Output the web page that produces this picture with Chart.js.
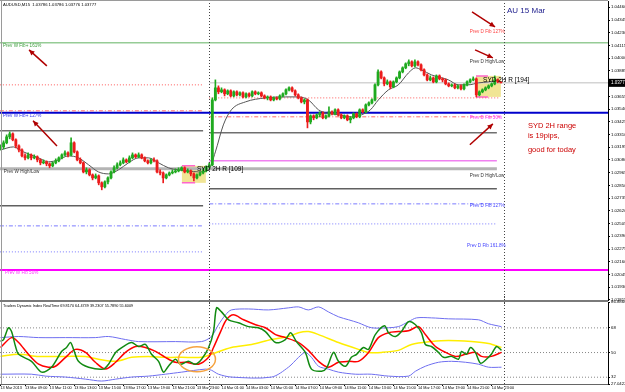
<!DOCTYPE html>
<html>
<head>
<meta charset="utf-8">
<title>AUDUSD M15</title>
<script src="https://cdn.jsdelivr.net/npm/chart.js@4.4.1/dist/chart.umd.min.js"></script>
<style>
  html, body { margin: 0; padding: 0; background: #fff; overflow: hidden; width: 625px; height: 392px; }
  #priceChart { position: absolute; left: 0; top: 0; }
  #tdiChart { position: absolute; left: 0; top: 296px; }
</style>
</head>
<body>
<canvas id="priceChart" width="625" height="305"></canvas>
<canvas id="tdiChart" width="625" height="96"></canvas>
<script>
// ---- price data (M15 candles, bar 0 = 13 Mar 07:00) ----
const opens = [
  1.03189,1.03198,1.03235,1.03289,1.03316,1.03262,1.03207,1.03171,1.03117,1.03099,
  1.03126,1.03099,1.03108,1.03081,1.03054,1.03063,1.03045,1.03027,1.03054,1.03072,
  1.03099,1.03126,1.03144,1.03126,1.03235,1.03153,1.03081,1.03054,1.02972,1.02990,
  1.02945,1.02918,1.02936,1.02873,1.02837,1.02882,1.02918,1.02972,1.03009,1.03036,
  1.03054,1.03081,1.03063,1.03099,1.03126,1.03108,1.03126,1.03099,1.03072,1.03054,
  1.03081,1.03072,1.02972,1.02963,1.02918,1.02945,1.02963,1.02972,1.02981,1.02990,
  1.03009,1.02972,1.02981,1.02954,1.02918,1.02945,1.02963,1.02981,1.03018,1.03036,
  1.03623,1.03732,1.03696,1.03714,1.03678,1.03705,1.03659,1.03696,1.03669,1.03687,
  1.03650,1.03678,1.03659,1.03696,1.03678,1.03687,1.03659,1.03641,1.03650,1.03623,
  1.03641,1.03632,1.03659,1.03678,1.03714,1.03732,1.03705,1.03669,1.03641,1.03605,
  1.03623,1.03424,1.03479,1.03461,1.03488,1.03506,1.03461,1.03479,1.03515,1.03497,
  1.03533,1.03488,1.03461,1.03479,1.03443,1.03461,1.03497,1.03470,1.03533,1.03515,
  1.03578,1.03596,1.03623,1.03759,1.03876,1.03822,1.03768,1.03786,1.03741,1.03786,
  1.03822,1.03876,1.03913,1.03949,1.03967,1.03931,1.03967,1.03940,1.03895,1.03849,
  1.03804,1.03822,1.03786,1.03840,1.03813,1.03804,1.03768,1.03750,1.03759,1.03732,
  1.03750,1.03723,1.03759,1.03786,1.03804,1.03813,1.03669,1.03696,1.03714,1.03732,
  1.03750,1.03768,1.03804,1.03786
];
const highs = [
  1.03217,1.03253,1.03307,1.03334,1.03325,1.03271,1.03217,1.03180,1.03135,1.03144,
  1.03135,1.03126,1.03117,1.03090,1.03081,1.03072,1.03054,1.03063,1.03090,1.03108,
  1.03135,1.03162,1.03153,1.03280,1.03244,1.03162,1.03099,1.03063,1.03009,1.03000,
  1.02954,1.02954,1.02945,1.02882,1.02891,1.02927,1.02981,1.03027,1.03054,1.03072,
  1.03099,1.03090,1.03117,1.03144,1.03135,1.03144,1.03135,1.03108,1.03081,1.03090,
  1.03099,1.03081,1.02990,1.02972,1.02954,1.02972,1.02990,1.03000,1.03009,1.03018,
  1.03018,1.03000,1.02990,1.02963,1.02954,1.02972,1.03000,1.03027,1.03054,1.03641,
  1.03804,1.03750,1.03732,1.03723,1.03714,1.03714,1.03705,1.03705,1.03696,1.03696,
  1.03687,1.03687,1.03705,1.03705,1.03696,1.03696,1.03669,1.03659,1.03659,1.03650,
  1.03650,1.03669,1.03687,1.03723,1.03741,1.03741,1.03714,1.03678,1.03650,1.03632,
  1.03632,1.03488,1.03488,1.03497,1.03515,1.03515,1.03488,1.03560,1.03524,1.03542,
  1.03542,1.03497,1.03488,1.03488,1.03470,1.03506,1.03506,1.03542,1.03542,1.03587,
  1.03605,1.03632,1.03768,1.03895,1.03885,1.03831,1.03804,1.03795,1.03795,1.03831,
  1.03885,1.03922,1.03958,1.03985,1.03976,1.03985,1.03976,1.03949,1.03904,1.03858,
  1.03840,1.03831,1.03849,1.03849,1.03822,1.03813,1.03777,1.03768,1.03768,1.03759,
  1.03759,1.03768,1.03795,1.03813,1.03831,1.03822,1.03705,1.03723,1.03741,1.03759,
  1.03777,1.03840,1.03813,1.03786
];
const lows = [
  1.03171,1.03180,1.03226,1.03271,1.03253,1.03189,1.03153,1.03108,1.03081,1.03090,
  1.03081,1.03090,1.03063,1.03036,1.03045,1.03027,1.03009,1.03018,1.03045,1.03063,
  1.03090,1.03117,1.03108,1.03117,1.03144,1.03072,1.03045,1.02963,1.02954,1.02936,
  1.02900,1.02909,1.02855,1.02810,1.02828,1.02864,1.02909,1.02963,1.03000,1.03027,
  1.03045,1.03054,1.03054,1.03090,1.03099,1.03099,1.03090,1.03063,1.03045,1.03045,
  1.03063,1.02963,1.02945,1.02873,1.02909,1.02936,1.02954,1.02963,1.02972,1.02981,
  1.02963,1.02963,1.02936,1.02891,1.02909,1.02936,1.02954,1.02972,1.03009,1.03027,
  1.03614,1.03678,1.03687,1.03659,1.03669,1.03650,1.03650,1.03659,1.03659,1.03641,
  1.03641,1.03650,1.03650,1.03669,1.03669,1.03650,1.03632,1.03623,1.03614,1.03614,
  1.03623,1.03623,1.03650,1.03669,1.03705,1.03696,1.03659,1.03632,1.03596,1.03587,
  1.03370,1.03406,1.03443,1.03452,1.03470,1.03452,1.03452,1.03470,1.03488,1.03488,
  1.03479,1.03452,1.03452,1.03434,1.03415,1.03452,1.03461,1.03461,1.03506,1.03506,
  1.03569,1.03587,1.03614,1.03750,1.03813,1.03750,1.03759,1.03723,1.03732,1.03777,
  1.03813,1.03867,1.03904,1.03931,1.03922,1.03922,1.03931,1.03885,1.03840,1.03795,
  1.03795,1.03777,1.03777,1.03804,1.03786,1.03759,1.03741,1.03741,1.03723,1.03723,
  1.03714,1.03714,1.03750,1.03777,1.03795,1.03650,1.03659,1.03687,1.03705,1.03723,
  1.03741,1.03759,1.03777,1.03776
];
const closes = [
  1.03198,1.03235,1.03289,1.03316,1.03262,1.03207,1.03171,1.03117,1.03099,1.03126,
  1.03099,1.03108,1.03081,1.03054,1.03063,1.03045,1.03027,1.03054,1.03072,1.03099,
  1.03126,1.03144,1.03126,1.03235,1.03153,1.03081,1.03054,1.02972,1.02990,1.02945,
  1.02918,1.02936,1.02873,1.02837,1.02882,1.02918,1.02972,1.03009,1.03036,1.03054,
  1.03081,1.03063,1.03099,1.03126,1.03108,1.03126,1.03099,1.03072,1.03054,1.03081,
  1.03072,1.02972,1.02963,1.02918,1.02945,1.02963,1.02972,1.02981,1.02990,1.03009,
  1.02972,1.02981,1.02954,1.02918,1.02945,1.02963,1.02981,1.03018,1.03036,1.03623,
  1.03732,1.03696,1.03714,1.03678,1.03705,1.03659,1.03696,1.03669,1.03687,1.03650,
  1.03678,1.03659,1.03696,1.03678,1.03687,1.03659,1.03641,1.03650,1.03623,1.03641,
  1.03632,1.03659,1.03678,1.03714,1.03732,1.03705,1.03669,1.03641,1.03605,1.03623,
  1.03424,1.03479,1.03461,1.03488,1.03506,1.03461,1.03479,1.03515,1.03497,1.03533,
  1.03488,1.03461,1.03479,1.03443,1.03461,1.03497,1.03470,1.03533,1.03515,1.03578,
  1.03596,1.03623,1.03759,1.03876,1.03822,1.03768,1.03786,1.03741,1.03786,1.03822,
  1.03876,1.03913,1.03949,1.03967,1.03931,1.03967,1.03940,1.03895,1.03849,1.03804,
  1.03822,1.03786,1.03840,1.03813,1.03804,1.03768,1.03750,1.03759,1.03732,1.03750,
  1.03723,1.03759,1.03786,1.03804,1.03813,1.03669,1.03696,1.03714,1.03732,1.03750,
  1.03768,1.03804,1.03786,1.03777
];

// moving average (gray line), sampled
const maBars = [0,4.2,7.5,12.4,15.6,18.9,22.1,25.4,28.7,31.9,35.2,38.4,41.7,45,48.2,51.5,54.7,58,61.2,64.5,
  67.8,70,72.6,75.2,79.8,86.3,92.8,97,100.3,103.6,106,110.1,114.3,117.6,120.5,123.1,126.4,129.6,132.9,135.2,
  137.1,140.4,145.9,149.2,152.4,155.7,159,162.2];
const maPrices = [1.03171,1.03198,1.03153,1.03099,1.03063,1.03081,1.03117,1.03099,1.03036,1.02972,
  1.02954,1.02990,1.03054,1.03099,1.03099,1.03054,1.03009,1.02990,1.02981,1.02972,
  1.02990,1.03153,1.03397,1.03533,1.03605,1.03641,1.03650,1.03650,1.03623,1.03533,
  1.03506,1.03488,1.03470,1.03488,1.03533,1.03623,1.03714,1.03759,1.03867,1.03913,
  1.03895,1.03849,1.03804,1.03759,1.03759,1.03777,1.03786,1.03804];

// horizontal levels (price, from bar, to bar)
const levelPrices = [1.04139,1.03759,1.03777,1.03641,1.03524,1.03506,1.03470,1.03343,1.03325,
  1.03072,1.03000,1.02819,1.02665,1.02683,1.02484,1.02502,1.02249,1.02086];
const levelFrom = [-0.2,-0.2,68,68,-0.2,-0.2,68,-0.2,68,68,-0.2,68,-0.2,68,-0.2,68,-0.2,-0.2];
const levelTo = [198,66,198,162.7,66,198,162.7,66,161.7,161.7,161.7,161.7,66,161.7,66,161.7,66,198];
const levelStyles = [
  {color: '#96cc96', width: 1.5, dash: []},
  {color: '#ff5a5a', width: 1, dash: [1, 2]},
  {color: '#d4d4d4', width: 1.5, dash: []},
  {color: '#ff5a5a', width: 1, dash: [1, 2]},
  {color: '#ff6a6a', width: 1, dash: [4, 2, 1, 2]},
  {color: '#0000cc', width: 2, dash: []},
  {color: '#ff6a6a', width: 1, dash: [4, 2, 1, 2]},
  {color: '#707070', width: 1.5, dash: []},
  {color: '#707070', width: 1.5, dash: []},
  {color: '#f080f0', width: 1.5, dash: []},
  {color: '#b4b4b4', width: 3, dash: []},
  {color: '#606060', width: 1.5, dash: []},
  {color: '#606060', width: 1.5, dash: []},
  {color: '#7a7aff', width: 1, dash: [4, 2, 1, 2]},
  {color: '#7a7aff', width: 1, dash: [4, 2, 1, 2]},
  {color: '#7a7aff', width: 1, dash: [1, 2]},
  {color: '#7a7aff', width: 1, dash: [1, 2]},
  {color: '#ff00ff', width: 2, dash: []}
];

const levelLabelText = ['Prev W Fib+ 161%','Prev W Fib+ 127%','Prev W High/Low','Prev W Fib 50%',
  'Prev D Fib 127%','Prev D High/Low','Prev D Fib 50%','Prev D High/Low','Prev D Fib 127%',
  'Prev D Fib 161.8%','SYD 2H R [194]','SYD 2H R [109]'];
const levelLabelBar = [0.8,0.8,1.1,1.5,152.9,152.9,152.9,152.9,152.9,152,157.2,64];
const levelLabelPrice = [1.04111,1.03479,1.02972,1.02059,1.04238,1.03967,1.03461,1.02936,1.02665,1.02303,1.03804,1.03000];
const levelLabelColors = ['#3c9c3c','#3333ee','#333333','#ff33ff','#ff4040','#333333','#ff33ff',
  '#333333','#4444ff','#4444ff','#000000','#000000'];

const noteText = ['AU 15 Mar','SYD 2H range','is 19pips,','good for today'];
const noteBar = [165, 171.8, 171.8, 171.8];
const notePrice = [1.04428, 1.03388, 1.03298, 1.03171];

// arrows (from -> to, head at "to")
const arrowFromBar = [153.6, 154.6, 152.9, 15.1, 18.4];
const arrowFromPrice = [1.04419, 1.04075, 1.03217, 1.03931, 1.03207];
const arrowToBar = [161.1, 160.4, 160.4, 9.3, 10.6];
const arrowToPrice = [1.04283, 1.04003, 1.03406, 1.04075, 1.03434];

// Sydney 2H range boxes
const sydBoxFrom = [59.1, 154.9];
const sydBoxTo = [66.9, 163];
const sydBoxHigh = [1.03027, 1.03840];
const sydBoxLow = [1.02873, 1.03650];
const sydEdgeTo = [63.4, 158.8];

const daySeparators = [68, 164];
const priceTicks = [1.04460,1.04345,1.04230,1.04115,1.04000,1.03885,1.03770,1.03655,1.03540,1.03425,
  1.03310,1.03195,1.03080,1.02965,1.02850,1.02735,1.02620,1.02505,1.02390,1.02275,1.02160,1.02045,
  1.01930,1.01815];

// ---- Traders Dynamic Index ----
const tdiGreenBars = [0,1,2.6,3.6,4.9,5.9,10.1,13.4,16.6,19.9,21.5,22.8,23.8,25.4,28.7,33.5,35.2,37.5,40,42.7,
  45,47.2,49.2,51.5,53.1,54.7,57,58.6,61.2,63.5,65.5,67.8,69.4,70.4,72,74.3,77.5,80.8,84,86.3,
  89.6,92.8,94.5,96.4,99.3,101.3,104.6,106.2,108.5,110.1,112.4,114.3,116,118.2,119.9,122.1,125.1,126.4,128.7,130.6,
  132.9,135.2,137.1,138.4,140.4,142.7,144.3,146.9,149.2,150.2,151.8,153.1,154.7,156.4,158.3,159.9,161.6,163.2];
const tdiGreen = [58.1,59.5,68.1,65.3,54.4,48.7,43.6,35.7,39.3,50.8,53.7,57.3,52.3,43.6,39.3,37.9,41.5,50.1,54.4,57.3,
  54.4,55.9,48.7,43.6,35.7,40.0,45.1,41.5,43.6,41.5,45.1,53.7,65.3,82.6,79.7,73.9,71.7,68.9,68.1,65.3,
  57.3,59.5,64.5,58.0,50.1,37.9,36.4,38.6,50.1,43.6,40.0,46.5,48.7,53.7,52.3,63.1,69.6,64.5,61.7,65.3,
  72.5,70.3,64.5,55.9,54.4,50.1,46.5,47.2,45.1,50.8,48.7,53.7,50.1,42.2,45.1,48.7,54.4,51.6];
const tdiRedBars = [0,3.6,5.9,9.1,12.4,15.6,17.9,21.2,24.4,27.7,30.9,34.2,37.5,40.7,44,47.2,50.5,53.7,57,60.3,
  64.5,67.8,69.4,71.7,73.6,75.9,79.2,83.1,86.3,89.6,92.8,97.1,100.3,103.6,106.8,110.1,113.4,116.6,119.9,123.1,
  126.4,129.6,132.9,136.2,138.4,141.7,145,148.2,151.5,154.7,156.7,159.9,163.2];
const tdiRed = [53.7,60.9,57.3,48.7,41.5,39.3,40.0,46.5,52.3,50.1,42.9,37.9,42.9,50.1,54.4,53.7,50.8,46.5,42.9,42.9,
  41.5,46.5,53.7,65.3,73.9,77.5,73.9,70.3,68.1,63.1,60.9,57.3,51.6,43.6,39.3,42.9,43.6,43.6,50.1,60.9,
  64.5,65.3,65.9,68.9,63.1,54.4,50.1,47.2,48.7,50.1,47.2,47.2,50.1];
const tdiYellowBars = [0,5.9,12.4,21.2,27.7,31.9,37.5,42.7,48.2,53.7,59,65.5,68.7,75.2,81.8,88.3,93.8,97.1,100.3,103.6,
  110.1,116.6,119.9,124.1,129.6,133.9,140.4,145.9,153.4,159,163.2];
const tdiYellow = [47.2,48.7,47.2,47.2,47.2,45.1,43.6,46.5,47.2,46.5,46.5,46.5,48.7,53.7,55.9,59.5,61.7,64.5,65.3,63.1,
  57.3,52.3,50.1,50.1,51.6,55.9,58.0,58.8,58.0,56.6,53.7];
const tdiUpperBars = [0,5.9,12.4,21.2,30.9,35.2,40.7,45,57,65.5,68.7,71,73.3,75.2,80.8,87.3,93.8,97.1,100.3,103.6,
  106.8,110.1,113.4,116.6,120.8,126.4,129.6,132.9,135.5,140.4,145.9,155.7,159,163.2];
const tdiUpper = [60.9,61.7,60.9,60.9,60.9,61.7,59.5,58.0,58.0,58.0,61.7,70.3,77.5,81.1,81.8,81.1,82.6,83.3,81.1,83.3,
  79.7,76.1,73.9,71.7,68.1,68.1,68.9,72.5,75.3,75.3,74.6,73.9,71.0,68.9];
const tdiLowerBars = [0,10.1,14.7,21.2,27.7,32.9,37.5,42.7,48.2,53.7,59,66.8,68.7,71,75.2,88.3,93.8,97.1,99.3,101.3,
  103.6,106.8,110.1,115.6,120.8,126.4,132.9,135.2,138.4,142.7,146.9,151.5,155.7,159,163.2];
const tdiLower = [34.2,34.2,32.8,32.1,30.6,29.2,30.6,32.1,32.8,34.2,35.7,37.9,37.1,34.2,32.1,32.1,39.3,46.5,50.1,46.5,
  40.0,37.9,35.7,34.2,34.2,32.8,32.8,36.4,40.0,42.9,43.6,42.9,41.5,39.3,39.3];
const tdiLevels = [68, 50, 32];
const tdiTicks = [86.8866, 68, 50, 32, 27.0422];
const tdiHighlightBar = 64;
const tdiHighlightValue = 45.1;

const timeBars = [0,8,16,24,32,40,48,56,64,72,80,88,96,104,112,120,128,136,144,152,160];
const timeLabels = ['13 Mar 2013','13 Mar 09:00','13 Mar 11:00','13 Mar 13:00','13 Mar 15:00','13 Mar 17:00',
  '13 Mar 19:00','13 Mar 21:00','13 Mar 23:00','14 Mar 01:00','14 Mar 03:00','14 Mar 05:00','14 Mar 07:00',
  '14 Mar 09:00','14 Mar 11:00','14 Mar 13:00','14 Mar 15:00','14 Mar 17:00','14 Mar 19:00','14 Mar 21:00',
  '14 Mar 23:00'];

const X_MIN = -0.16;
const X_MAX = 197.9;
const FONT = '"Liberation Sans", Arial, sans-serif';

Chart.defaults.font.family = FONT;
Chart.defaults.animation = false;

const pairPoints = (xs, ys) => xs.map((v, i) => ({x: v, y: ys[i]}));
const candleColor = i => closes[i] >= opens[i] ? '#1faa1f' : '#ec1c1c';

function text(ctx, str, px, py, color, size, align) {
    ctx.save();
    ctx.font = size + 'px ' + FONT;
    ctx.fillStyle = color;
    ctx.textAlign = align || 'left';
    ctx.textBaseline = 'middle';
    ctx.fillText(str, px, py);
    ctx.restore();
}

function drawSeparators(chart) {
    const {ctx, scales: {x}} = chart;
    ctx.save();
    ctx.strokeStyle = '#444';
    ctx.lineWidth = 1;
    ctx.setLineDash([1, 2]);
    daySeparators.forEach(b => {
        const px = Math.round(x.getPixelForValue(b)) + 0.5;
        ctx.beginPath();
        ctx.moveTo(px, 0);
        ctx.lineTo(px, chart.height);
        ctx.stroke();
    });
    ctx.restore();
}

// overlays on the price panel
const priceOverlay = {
    id: 'priceOverlay',
    beforeDatasetsDraw(chart) {
        const {ctx, scales: {x, y}} = chart;
        ctx.save();
        sydBoxFrom.forEach((b, i) => {
            const x0 = x.getPixelForValue(b), x1 = x.getPixelForValue(sydBoxTo[i]);
            const y0 = y.getPixelForValue(sydBoxHigh[i]), y1 = y.getPixelForValue(sydBoxLow[i]);
            ctx.fillStyle = 'rgba(238,224,130,0.85)';
            ctx.fillRect(x0, y0, x1 - x0, y1 - y0);
            ctx.strokeStyle = '#ff66cc';
            ctx.lineWidth = 1.5;
            const xe = x.getPixelForValue(sydEdgeTo[i]);
            ctx.beginPath();
            ctx.moveTo(x0, y0); ctx.lineTo(xe, y0);
            ctx.moveTo(x0, y1); ctx.lineTo(xe, y1);
            ctx.stroke();
        });
        ctx.restore();
    },
    afterDatasetsDraw(chart) {
        const {ctx, scales: {x, y}} = chart;
        drawSeparators(chart);

        // arrows
        ctx.save();
        ctx.strokeStyle = '#b00000';
        ctx.fillStyle = '#b00000';
        ctx.lineWidth = 1.5;
        arrowFromBar.forEach((b, i) => {
            const x0 = x.getPixelForValue(b), y0 = y.getPixelForValue(arrowFromPrice[i]);
            const x1 = x.getPixelForValue(arrowToBar[i]), y1 = y.getPixelForValue(arrowToPrice[i]);
            const ang = Math.atan2(y1 - y0, x1 - x0);
            ctx.beginPath();
            ctx.moveTo(x0, y0);
            ctx.lineTo(x1, y1);
            ctx.stroke();
            ctx.beginPath();
            ctx.moveTo(x1, y1);
            ctx.lineTo(x1 - 6 * Math.cos(ang - 0.45), y1 - 6 * Math.sin(ang - 0.45));
            ctx.lineTo(x1 - 6 * Math.cos(ang + 0.45), y1 - 6 * Math.sin(ang + 0.45));
            ctx.closePath();
            ctx.fill();
        });
        ctx.restore();

        // level labels
        levelLabelText.forEach((t, i) => {
            const size = i >= 10 ? 6.5 : 4.6;
            text(ctx, t, x.getPixelForValue(levelLabelBar[i]), y.getPixelForValue(levelLabelPrice[i]), levelLabelColors[i], size);
        });

        // notes
        text(ctx, noteText[0], x.getPixelForValue(noteBar[0]), y.getPixelForValue(notePrice[0]), '#1c1c8c', 8);
        for (let i = 1; i < noteText.length; i++) {
            text(ctx, noteText[i], x.getPixelForValue(noteBar[i]), y.getPixelForValue(notePrice[i]), '#cc0000', 7.5);
        }
    },
    afterDraw(chart) {
        const {ctx, chartArea, scales: {y}} = chart;
        ctx.save();
        // panel borders
        ctx.strokeStyle = '#9a9a9a';
        ctx.lineWidth = 1;
        ctx.beginPath();
        ctx.moveTo(0, 0.5); ctx.lineTo(chartArea.right, 0.5);
        ctx.moveTo(1.5, 0); ctx.lineTo(1.5, chartArea.bottom);
        ctx.stroke();
        ctx.strokeStyle = '#7a7a7a';
        ctx.lineWidth = 2;
        ctx.beginPath();
        ctx.moveTo(0, chartArea.bottom + 1); ctx.lineTo(chartArea.right, chartArea.bottom + 1);
        ctx.stroke();

        // current price box
        const last = closes[closes.length - 1];
        const py = y.getPixelForValue(last);
        ctx.fillStyle = '#000';
        ctx.fillRect(chartArea.right + 1, py - 4, 625 - chartArea.right - 1, 8);
        ctx.restore();
        text(ctx, last.toFixed(5), chartArea.right + 3, py, '#fff', 4.5);

        // title
        const n = closes.length - 1;
        text(ctx, 'AUDUSD,M15  ' + [opens[n], highs[n], lows[n], closes[n]].map(v => v.toFixed(5)).join(' '),
            3, 4.5, '#000', 4.2);
    }
};

const candleWicks = {
    type: 'bar',
    data: opens.map((_, i) => ({x: i, y: [lows[i], highs[i]]})),
    backgroundColor: c => candleColor(c.dataIndex),
    barThickness: 1,
    grouped: false,
    order: 1
};
const candleBodies = {
    type: 'bar',
    data: opens.map((_, i) => ({x: i, y: [opens[i], closes[i]]})),
    backgroundColor: c => candleColor(c.dataIndex),
    barThickness: 2.2,
    minBarLength: 1,
    grouped: false,
    order: 0
};
const maLine = {
    type: 'line',
    data: pairPoints(maBars, maPrices),
    borderColor: '#555',
    borderWidth: 1,
    pointRadius: 0,
    cubicInterpolationMode: 'monotone',
    order: 2
};
const levelLines = levelPrices.map((p, i) => ({
    type: 'line',
    data: [{x: levelFrom[i], y: p}, {x: levelTo[i], y: p}],
    borderColor: levelStyles[i].color,
    borderWidth: levelStyles[i].width,
    borderDash: levelStyles[i].dash,
    pointRadius: 0,
    order: 5
}));

new Chart(document.getElementById('priceChart'), {
    type: 'bar',
    data: {datasets: [candleBodies, candleWicks, maLine, ...levelLines]},
    options: {
        responsive: false,
        layout: {padding: {top: 1, bottom: 5, left: 0, right: 0}},
        plugins: {legend: {display: false}, tooltip: {enabled: false}},
        scales: {
            x: {type: 'linear', min: X_MIN, max: X_MAX, offset: false, display: false},
            y: {
                position: 'right',
                min: 1.01814,
                max: 1.04517,
                afterBuildTicks: s => { s.ticks = priceTicks.map(v => ({value: v})); },
                afterFit: s => { s.width = 17; s.paddingTop = 0; s.paddingBottom = 0; },
                ticks: {callback: v => v.toFixed(5), font: {size: 4.3}, color: '#000', padding: 1},
                grid: {drawOnChartArea: false, drawTicks: true, tickLength: 2, color: '#000'},
                border: {display: true, color: '#000'}
            }
        }
    },
    plugins: [priceOverlay]
});

// overlays on the TDI panel
const tdiOverlay = {
    id: 'tdiOverlay',
    afterDatasetsDraw(chart) {
        const {ctx, chartArea, scales: {x, y}} = chart;
        drawSeparators(chart);
        ctx.save();
        ctx.strokeStyle = '#9a9a9a';
        ctx.lineWidth = 1;
        ctx.beginPath();
        ctx.moveTo(1.5, chartArea.top); ctx.lineTo(1.5, chartArea.bottom);
        ctx.stroke();
        // orange highlight ellipse
        ctx.strokeStyle = '#f5a340';
        ctx.lineWidth = 1.5;
        ctx.beginPath();
        ctx.ellipse(x.getPixelForValue(tdiHighlightBar), y.getPixelForValue(tdiHighlightValue), 18.5, 12.5, 0, 0, Math.PI * 2);
        ctx.stroke();
        ctx.restore();
        text(ctx, 'Traders Dynamic Index RealTime 69.8170 64.4739 39.2307 55.7890 55.6009',
            3, chartArea.top + 4, '#000', 3.8);
    }
};

const tdiLine = (xs, ys, color, width, order) => ({
    data: pairPoints(xs, ys),
    borderColor: color,
    borderWidth: width,
    pointRadius: 0,
    tension: 0.3,
    order: order
});

new Chart(document.getElementById('tdiChart'), {
    type: 'line',
    data: {
        datasets: [
            tdiLine(tdiGreenBars, tdiGreen, '#118a11', 1.5, 0),
            tdiLine(tdiRedBars, tdiRed, '#ff0000', 1.5, 1),
            tdiLine(tdiYellowBars, tdiYellow, '#ffee00', 1.5, 2),
            tdiLine(tdiUpperBars, tdiUpper, '#6e6ef0', 1, 3),
            tdiLine(tdiLowerBars, tdiLower, '#6e6ef0', 1, 3),
            ...tdiLevels.map(v => ({
                data: [{x: X_MIN, y: v}, {x: X_MAX, y: v}],
                borderColor: '#888',
                borderWidth: 1,
                borderDash: [1, 2],
                pointRadius: 0,
                order: 6
            }))
        ]
    },
    options: {
        responsive: false,
        layout: {padding: {top: 6, bottom: 0, left: 0, right: 0}},
        plugins: {legend: {display: false}, tooltip: {enabled: false}},
        scales: {
            x: {
                type: 'linear', min: X_MIN, max: X_MAX, offset: false,
                afterBuildTicks: s => { s.ticks = timeBars.map(v => ({value: v})); },
                afterFit: s => { s.height = 8; s.paddingLeft = 0; s.paddingRight = 0; },
                ticks: {callback: (v, i) => timeLabels[i], autoSkip: false, maxRotation: 0, align: 'start',
                    font: {size: 3.8}, color: '#000', padding: 0},
                grid: {drawOnChartArea: false, drawTicks: true, tickLength: 2, color: '#000'},
                border: {display: true, color: '#666'}
            },
            y: {
                position: 'right',
                min: 27.0422,
                max: 86.8866,
                afterBuildTicks: s => { s.ticks = tdiTicks.map(v => ({value: v})); },
                afterFit: s => { s.width = 17; s.paddingTop = 0; s.paddingBottom = 0; },
                ticks: {callback: v => String(v), font: {size: 4.3}, color: '#000', padding: 1},
                grid: {drawOnChartArea: false, drawTicks: true, tickLength: 2, color: '#000'},
                border: {display: true, color: '#000'}
            }
        }
    },
    plugins: [tdiOverlay]
});
</script>
</body>
</html>
